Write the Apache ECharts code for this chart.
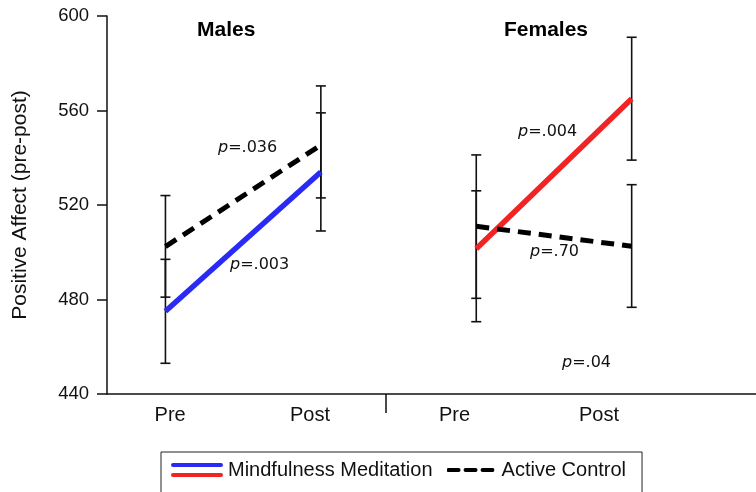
<!DOCTYPE html>
<html>
<head>
<meta charset="utf-8">
<script src="https://cdn.jsdelivr.net/npm/echarts@6/dist/echarts.min.js"></script>
<style>html,body{margin:0;padding:0;background:#fff}#c{width:756px;height:492px}</style>
</head>
<body>
<div id="c"></div>
<script>
// ---- data ----
const timeLabels = ['Pre', 'Post', 'Pre', 'Post'];
const groups = ['Males', 'Females'];
const seriesNames = ['Mindfulness Meditation', 'Active Control'];
// means [pre, post]
const mmMales = [475, 534];
const mmFemales = [501.5, 565];
const acMales = [502.4, 545.4];
const acFemales = [511, 502.5];
// error bar bounds [pre, post]
const mmMalesLow = [453, 509], mmMalesHigh = [497, 559];
const acMalesLow = [481, 523], acMalesHigh = [524, 570.4];
const mmFemalesLow = [470.6, 539], mmFemalesHigh = [526, 591];
const acFemalesLow = [480.5, 476.7], acFemalesHigh = [541.2, 528.6];
const pLabels = ['=.036', '=.003', '=.004', '=.70', '=.04'];
const yTicks = [440, 480, 520, 560, 600];

const chart = echarts.init(document.getElementById('c'));
const FONT = '"Liberation Sans", Arial, sans-serif';

function errData(lo, hi, xs) {
  return xs.map((x, i) => [x, lo[i], hi[i]]);
}
const errAll = [].concat(
  errData(mmMalesLow, mmMalesHigh, [1, 2]),
  errData(acMalesLow, acMalesHigh, [1, 2]),
  errData(mmFemalesLow, mmFemalesHigh, [3, 4]),
  errData(acFemalesLow, acFemalesHigh, [3, 4])
);

const svgMM = 'data:image/svg+xml;utf8,' + encodeURIComponent(
  '<svg xmlns="http://www.w3.org/2000/svg" width="52" height="16"><line x1="2" y1="3" x2="50" y2="3" stroke="#2a2af5" stroke-width="4" stroke-linecap="round"/><line x1="2" y1="13" x2="50" y2="13" stroke="#f02424" stroke-width="4" stroke-linecap="round"/></svg>');
const svgAC = 'data:image/svg+xml;utf8,' + encodeURIComponent(
  '<svg xmlns="http://www.w3.org/2000/svg" width="48" height="16"><line x1="2" y1="8" x2="46" y2="8" stroke="#000" stroke-width="4" stroke-linecap="round" stroke-dasharray="10 7"/></svg>');

const labelPos = [1.03, 1.93, 2.86, 3.79];

const option = {
  backgroundColor: '#fff',
  animation: false,
  grid: { left: 107, right: 0, top: 16, bottom: 98 },
  xAxis: {
    type: 'value', min: 0.624, max: 4.8,
    splitLine: { show: false },
    axisLine: { show: true, onZero: false, lineStyle: { color: '#111', width: 1.5 } },
    axisTick: { show: true, customValues: [2.418], length: 19, inside: false, lineStyle: { color: '#111', width: 1.5 } },
    axisLabel: {
      customValues: labelPos, margin: 11, fontSize: 20, color: '#111', fontFamily: FONT,
      formatter: (v) => { const i = labelPos.indexOf(v); return i >= 0 ? timeLabels[i] : ''; }
    }
  },
  yAxis: {
    type: 'value', min: 440, max: 600, interval: 40,
    name: 'Positive Affect (pre-post)', nameLocation: 'middle', nameGap: 76,
    nameTextStyle: { fontSize: 21, color: '#111', fontFamily: FONT },
    splitLine: { show: false },
    axisLine: { show: true, lineStyle: { color: '#111', width: 1.5 } },
    axisTick: { show: true, length: 10, lineStyle: { color: '#111', width: 1.5 } },
    axisLabel: { fontSize: 18.5, color: '#111', margin: 18, fontFamily: FONT }
  },
  legend: {
    left: 161, top: 452, orient: 'horizontal',
    padding: [8, 16, 30, 10], borderColor: '#222', borderWidth: 1,
    itemWidth: 52, itemHeight: 16, itemGap: 12,
    textStyle: { fontSize: 20, color: '#111', fontFamily: FONT },
    data: [
      { name: seriesNames[0], icon: 'image://' + svgMM },
      { name: seriesNames[1], icon: 'image://' + svgAC }
    ]
  },
  series: [
    {
      type: 'custom', name: 'err', z: 1, silent: true,
      data: errAll,
      renderItem: function (params, api) {
        const x = api.value(0);
        const lo = api.coord([x, api.value(1)]);
        const hi = api.coord([x, api.value(2)]);
        const w = 5;
        const st = { stroke: '#111', lineWidth: 1.6 };
        return {
          type: 'group', children: [
            { type: 'line', shape: { x1: lo[0], y1: lo[1], x2: hi[0], y2: hi[1] }, style: st },
            { type: 'line', shape: { x1: lo[0] - w, y1: lo[1], x2: lo[0] + w, y2: lo[1] }, style: st },
            { type: 'line', shape: { x1: hi[0] - w, y1: hi[1], x2: hi[0] + w, y2: hi[1] }, style: st }
          ]
        };
      }
    },
    { type: 'line', name: seriesNames[0], z: 3, symbol: 'none', color: '#2a2af5',
      lineStyle: { color: '#2a2af5', width: 5.5 }, data: mmMales.map((v, i) => [i + 1, v]) },
    { type: 'line', name: seriesNames[0], z: 3, symbol: 'none', color: '#f02424',
      lineStyle: { color: '#f02424', width: 5.5 }, data: mmFemales.map((v, i) => [i + 3, v]) },
    { type: 'line', name: seriesNames[1], z: 3, symbol: 'none', color: '#000',
      lineStyle: { color: '#000', width: 5, type: [13, 8] }, data: acMales.map((v, i) => [i + 1, v]) },
    { type: 'line', name: seriesNames[1], z: 3, symbol: 'none', color: '#000',
      lineStyle: { color: '#000', width: 5, type: [13, 8] }, data: acFemales.map((v, i) => [i + 3, v]) }
  ],
  graphic: [
    { type: 'text', left: 197, top: 20, style: { text: groups[0], fontSize: 21, fontWeight: 'bold', fill: '#000', fontFamily: FONT } },
    { type: 'text', left: 504, top: 20, style: { text: groups[1], fontSize: 21, fontWeight: 'bold', fill: '#000', fontFamily: FONT } },
    ...[[218, 140, 0], [230, 257, 1], [518, 124, 2], [530, 244, 3], [562, 355, 4]].map(([x, y, k]) => ({
      type: 'text', left: x, top: y,
      style: {
        text: '{i|p}' + pLabels[k], fill: '#111', fontSize: 16, fontFamily: '"DejaVu Sans", Verdana, sans-serif',
        rich: { i: { fontStyle: 'italic', fontSize: 16, fontFamily: '"DejaVu Sans", Verdana, sans-serif', fill: '#111' } }
      }
    }))
  ]
};
chart.setOption(option);
</script>
</body>
</html>
